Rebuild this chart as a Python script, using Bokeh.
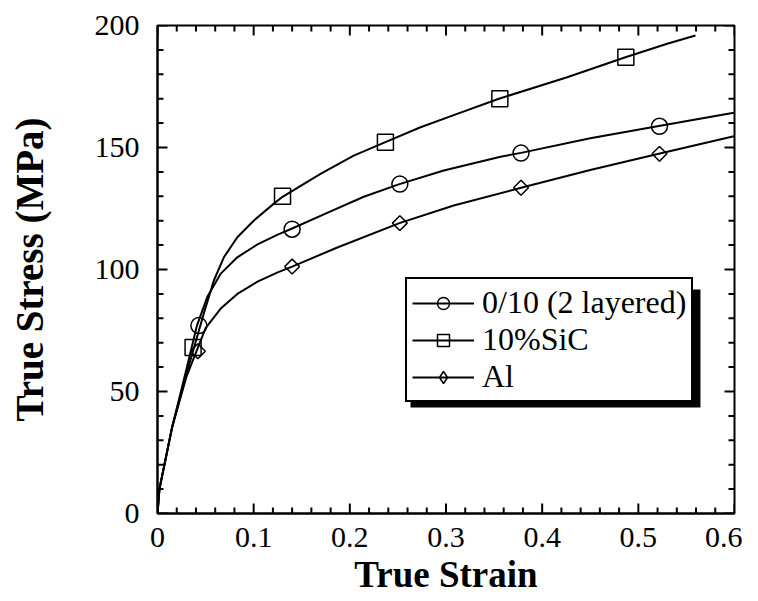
import numpy as np
from bokeh.plotting import figure
from bokeh.models import (Range1d, FixedTicker, Legend, LegendItem, BoxAnnotation)
from bokeh.embed import file_html
from bokeh.resources import INLINE

# ---- data ----
layered_x = [0, 0.002, 0.015, 0.03, 0.041, 0.0517, 0.0655, 0.083, 0.104, 0.125, 0.14,
             0.18, 0.2145, 0.2516, 0.2977, 0.3567, 0.378, 0.45, 0.5213, 0.5993]
layered_y = [0, 10, 35, 59, 77, 88.7, 98.2, 105, 110.3, 114.3, 116.8,
             123.8, 129.8, 135.0, 140.6, 146.2, 147.8, 153.8, 158.8, 164.2]

sic_x = [0, 0.002, 0.015, 0.03, 0.038, 0.048, 0.0586, 0.069, 0.083, 0.10, 0.121, 0.13,
         0.1695, 0.204, 0.237, 0.2735, 0.3116, 0.355, 0.426, 0.4866, 0.53, 0.5594]
sic_y = [0, 10, 35, 57, 68, 81.8, 95.5, 105, 113.2, 120, 127, 129.8,
         139.2, 146.7, 152.2, 158.3, 163.8, 170, 178.8, 187, 192.5, 195.9]

al_x = [0, 0.002, 0.015, 0.03, 0.041, 0.05, 0.0655, 0.083, 0.104, 0.125, 0.14,
        0.187, 0.2516, 0.308, 0.378, 0.45, 0.5213, 0.5993]
al_y = [0, 10, 35, 56, 67, 76, 83.9, 90, 95.0, 98.8, 101.2,
        109.0, 119, 126.2, 133.5, 140.8, 147.4, 154.6]

layered_mx = [0.043, 0.140, 0.252, 0.378, 0.522]
layered_my = [77, 116.5, 135, 147.7, 158.7]
sic_mx = [0.037, 0.130, 0.237, 0.356, 0.487]
sic_my = [68, 130, 152.2, 170, 187]
al_mx = [0.042, 0.140, 0.252, 0.378, 0.522]
al_my = [66.5, 101.2, 119, 133.5, 147.4]

series_labels = ["0/10 (2 layered)", "10%SiC", "Al"]

x_ticks = [0, 0.1, 0.2, 0.3, 0.4, 0.5, 0.6]
x_tick_labels = ["0", "0.1", "0.2", "0.3", "0.4", "0.5", "0.6"]
x_minor = [round(i * 0.02, 2) for i in range(31)]
y_ticks = [0, 50, 100, 150, 200]
y_tick_labels = ["0", "50", "100", "150", "200"]
y_minor = list(range(0, 201, 10))

X_MIN, X_MAX = 0, 0.6
Y_MIN, Y_MAX = 0, 200

FONT = "Liberation Serif"
FRAME_W, FRAME_H = 577, 488
MAJOR_LEN, MINOR_LEN = 10, 6   # inward tick lengths in px

p = figure(frame_width=FRAME_W, frame_height=FRAME_H, output_backend="svg",
           toolbar_location=None,
           x_range=Range1d(X_MIN, X_MAX), y_range=Range1d(Y_MIN, Y_MAX),
           min_border_left=157, min_border_right=8, min_border_top=25,
           min_border_bottom=72)
p.grid.visible = False
p.outline_line_color = "black"
p.outline_line_width = 2
p.outline_line_alpha = 1
p.background_fill_color = "white"
p.border_fill_color = "white"

xa = p.xaxis[0]
ya = p.yaxis[0]
for ax, ticks, minor, labels in ((xa, x_ticks, x_minor, x_tick_labels),
                                 (ya, y_ticks, y_minor, y_tick_labels)):
    ax.ticker = FixedTicker(ticks=ticks, minor_ticks=minor)
    ax.major_tick_in = 0
    ax.major_tick_out = 0
    ax.minor_tick_in = 0
    ax.minor_tick_out = 0
    ax.axis_line_width = 2
    ax.axis_line_color = "black"
    ax.major_label_overrides = {t: l for t, l in zip(ticks, labels)}
    ax.major_label_text_font = FONT
    ax.major_label_text_font_size = "30px"
    ax.major_label_text_color = "black"
xa.major_label_standoff = 14
ya.major_label_standoff = 18
xa.axis_label = "True Strain"
ya.axis_label = "True Stress (MPa)"
for ax, size in ((xa, "37px"), (ya, "39px")):
    ax.axis_label_text_font = FONT
    ax.axis_label_text_font_style = "bold"
    ax.axis_label_text_font_size = size
    ax.axis_label_text_color = "black"
xa.axis_label_standoff = 4
ya.axis_label_standoff = 41

# inward ticks on all four sides, drawn as short segments from the tick lists
dx_major = MAJOR_LEN * (X_MAX - X_MIN) / FRAME_W
dx_minor = MINOR_LEN * (X_MAX - X_MIN) / FRAME_W
dy_major = MAJOR_LEN * (Y_MAX - Y_MIN) / FRAME_H
dy_minor = MINOR_LEN * (Y_MAX - Y_MIN) / FRAME_H
minor_x_only = [t for t in x_minor if t not in x_ticks]
minor_y_only = [t for t in y_minor if t not in y_ticks]
seg = dict(line_color="black", line_width=2)
for ticks, d in ((x_ticks, dy_major), (minor_x_only, dy_minor)):
    t = np.array(ticks, dtype=float)
    p.segment(t, np.full_like(t, Y_MIN), t, np.full_like(t, Y_MIN + d), **seg)
    p.segment(t, np.full_like(t, Y_MAX), t, np.full_like(t, Y_MAX - d), **seg)
for ticks, d in ((y_ticks, dx_major), (minor_y_only, dx_minor)):
    t = np.array(ticks, dtype=float)
    p.segment(np.full_like(t, X_MIN), t, np.full_like(t, X_MIN + d), t, **seg)
    p.segment(np.full_like(t, X_MAX), t, np.full_like(t, X_MAX - d), t, **seg)

l1 = p.line(layered_x, layered_y, line_color="black", line_width=2)
l2 = p.line(sic_x, sic_y, line_color="black", line_width=2)
l3 = p.line(al_x, al_y, line_color="black", line_width=2)
m1 = p.scatter(layered_mx, layered_my, marker="circle", size=16, fill_color=None,
               line_color="black", line_width=1.5)
m2 = p.scatter(sic_mx, sic_my, marker="square", size=16, fill_color=None,
               line_color="black", line_width=1.5)
m3 = p.scatter(al_mx, al_my, marker="square", size=10.5, angle=np.pi / 4, fill_color=None,
               line_color="black", line_width=1.5)
# legend-only sample of the diamond marker (not drawn in the plot area)
m3_legend = p.scatter([np.nan], [np.nan], marker="diamond", size=18, fill_color=None,
                      line_color="black", line_width=1.5)

shadow = BoxAnnotation(left=0.2631, right=0.5646, top=91.8, bottom=43.4,
                       fill_color="black", fill_alpha=1, line_color=None)
p.add_layout(shadow)

legend = Legend(items=[LegendItem(label=series_labels[0], renderers=[l1, m1]),
                       LegendItem(label=series_labels[1], renderers=[l2, m2]),
                       LegendItem(label=series_labels[2], renderers=[l3, m3_legend])],
                location=(248, 111))
legend.label_text_font = FONT
legend.label_text_font_size = "32px"
legend.label_text_color = "black"
legend.glyph_width = 62
legend.glyph_height = 30
legend.label_height = 30
legend.spacing = 0
legend.padding = 5
legend.margin = 0
legend.label_standoff = 8
legend.border_line_color = "black"
legend.border_line_width = 2
legend.border_line_alpha = 1
legend.background_fill_color = "white"
legend.background_fill_alpha = 1
p.add_layout(legend, "center")

open("out.html", "w").write(file_html(p, INLINE))
